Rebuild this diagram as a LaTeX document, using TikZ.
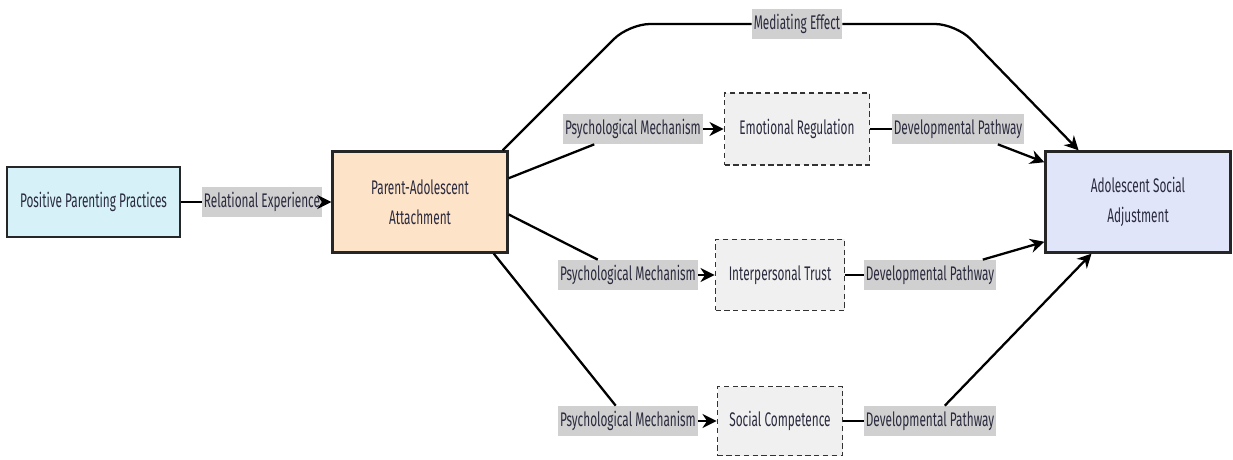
\documentclass[tikz,border=0pt]{standalone}
\usepackage{fontspec}
\setmainfont{Fira Sans}[FakeStretch=0.6]
\usetikzlibrary{arrows.meta, positioning}

\definecolor{cyanfill}{HTML}{D6F2F8}
\definecolor{peachfill}{HTML}{FDE3C8}
\definecolor{lavfill}{HTML}{E1E5FA}
\definecolor{mechfill}{HTML}{F0F0F0}
\definecolor{tagfill}{HTML}{D0D0D0}
\definecolor{inkcol}{HTML}{2B2B3F}

\begin{document}
\begin{tikzpicture}[
    >=Stealth,
    every node/.style={font=\fontsize{11.2}{13}\selectfont, text=inkcol},
    box/.style={draw=black!85, line width=1.3pt, align=center},
    cyanbox/.style={box, fill=cyanfill},
    peachbox/.style={box, fill=peachfill},
    lavbox/.style={box, fill=lavfill},
    mechbox/.style={draw=black!80, line width=1.1pt, dash pattern=on 3pt off 2pt, fill=mechfill, align=center},
    tag/.style={fill=tagfill, inner xsep=1pt, inner ysep=0pt, minimum height=0.6cm},
    link/.style={line width=1.3pt, draw=black},
    arr/.style={link, ->, >={Stealth[length=8pt, width=8pt]}},
]
\useasboundingbox (0,0) rectangle (24.66,9.18);

% ============ main chain ============
\node[cyanbox, minimum width=3.46cm, minimum height=1.4cm] (ppp) at (1.87, 5.14) {Positive Parenting Practices};
\node[tag] (rel) at (5.24, 5.14) {Relational Experience};
\node[peachbox, minimum width=3.5cm, minimum height=2.02cm] (paa) at (8.4, 5.14) {Parent-Adolescent\\[4pt]Attachment};
\node[lavbox, minimum width=3.7cm, minimum height=2.02cm] (asa) at (22.76, 5.14) {Adolescent Social\\[4pt]Adjustment};

\draw[link] (ppp) -- (rel);
\draw[arr] (rel) -- (paa);

% ============ mediating effect ============
\node[tag] (med) at (15.94, 8.7) {Mediating Effect};
\coordinate (medL) at (12.58, 8.7);
\coordinate (medR) at (19.12, 8.7);

\draw[link, rounded corners=12pt] (paa.32) -- (medL) -- (med);
\draw[arr, rounded corners=12pt] (med) -- (medR) -- (asa.139);

% ============ mechanisms ============
\node[mechbox, minimum width=2.9cm, minimum height=1.44cm] (er) at (15.94, 6.6) {Emotional Regulation};
\node[mechbox, minimum width=2.58cm, minimum height=1.42cm] (it) at (15.6, 3.68) {Interpersonal Trust};
\node[mechbox, minimum width=2.5cm, minimum height=1.38cm] (sc) at (15.6, 0.76) {Social Competence};

\node[tag] (pm1) at (12.66, 6.6) {Psychological Mechanism};
\node[tag] (pm2) at (12.56, 3.68) {Psychological Mechanism};
\node[tag] (pm3) at (12.56, 0.76) {Psychological Mechanism};

\node[tag] (dp1) at (19.16, 6.6) {Developmental Pathway};
\node[tag] (dp2) at (18.6, 3.68) {Developmental Pathway};
\node[tag] (dp3) at (18.6, 0.76) {Developmental Pathway};

\draw[link] (paa.15) -- (pm1);
\draw[link] (paa.-8) -- (pm2);
\draw[link] (paa.-35) -- (pm3);

\draw[arr] (pm1) -- (er);
\draw[arr] (pm2) -- (it);
\draw[arr] (pm3) -- (sc);

\draw[link] (er) -- (dp1);
\draw[link] (it) -- (dp2);
\draw[link] (sc) -- (dp3);

\draw[arr] (dp1) -- (asa.157);
\draw[arr] (dp2) -- (asa.203);
\draw[arr] (dp3) -- (asa.228);

\end{tikzpicture}
\end{document}
